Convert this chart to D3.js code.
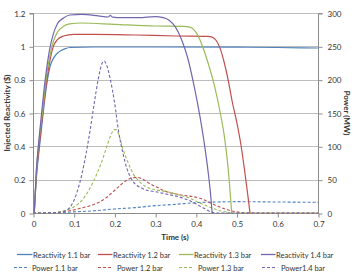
<!DOCTYPE html>
<html><head><meta charset="utf-8">
<script src="https://cdn.jsdelivr.net/npm/d3@7"></script>
<style>
html,body{margin:0;padding:0;background:#fff;}
svg text{font-family:Lato,"Open Sans",sans-serif;fill:#333;}
</style></head>
<body><svg id="c" width="354" height="275"></svg>
<script>
// Time ticks and axis ticks
const xTicks = [0,0.1,0.2,0.3,0.4,0.5,0.6,0.7];
const yLeftTicks = [0,0.2,0.4,0.6,0.8,1,1.2];
const yRightTicks = [0,50,100,150,200,250,300];

// Reactivity series ($) : [time, value]
const react11 = [[0.003,0],[0.008,0.2],[0.016,0.4],[0.025,0.6],[0.033,0.76],[0.042,0.88],[0.052,0.935],[0.063,0.965],[0.078,0.985],[0.091,0.993],[0.15,0.996],[0.3,0.996],[0.5,0.995],[0.6,0.993],[0.7,0.99]];
const react12 = [[0.003,0],[0.008,0.22],[0.016,0.42],[0.024,0.6],[0.033,0.78],[0.042,0.92],[0.05,1.0],[0.06,1.04],[0.075,1.062],[0.1,1.072],[0.15,1.072],[0.25,1.068],[0.35,1.062],[0.43,1.06],[0.44,1.055],[0.45,1.035],[0.46,0.985],[0.47,0.9],[0.48,0.79],[0.49,0.66],[0.5,0.55],[0.51,0.42],[0.52,0.25],[0.528,0.1],[0.533,0]];
const react13 = [[0.003,0],[0.008,0.24],[0.015,0.44],[0.023,0.6],[0.032,0.8],[0.042,0.95],[0.05,1.03],[0.06,1.085],[0.075,1.12],[0.09,1.135],[0.12,1.14],[0.2,1.132],[0.3,1.122],[0.37,1.12],[0.385,1.115],[0.395,1.1],[0.405,1.065],[0.415,1.01],[0.43,0.9],[0.445,0.77],[0.46,0.6],[0.47,0.46],[0.478,0.3],[0.484,0.13],[0.488,0]];
const react14 = [[0.003,0],[0.008,0.25],[0.015,0.45],[0.022,0.62],[0.03,0.8],[0.04,0.97],[0.05,1.075],[0.06,1.135],[0.075,1.17],[0.09,1.188],[0.12,1.192],[0.16,1.183],[0.185,1.176],[0.19,1.186],[0.195,1.175],[0.22,1.172],[0.26,1.172],[0.3,1.178],[0.32,1.172],[0.335,1.155],[0.35,1.115],[0.365,1.04],[0.38,0.93],[0.395,0.77],[0.41,0.58],[0.42,0.43],[0.43,0.25],[0.437,0.09],[0.44,0]];

// Power series (MW) : [time, value]
const power11 = [[0,0],[0.05,0.25],[0.1,1.7],[0.15,3.3],[0.2,6],[0.25,8],[0.3,11],[0.35,13],[0.4,15.5],[0.45,16.5],[0.5,17],[0.6,16.5],[0.7,16]];
const power12 = [[0,0],[0.05,0.4],[0.067,1.7],[0.09,3.3],[0.116,7],[0.14,11],[0.165,17],[0.18,23],[0.197,32],[0.215,42],[0.23,49],[0.245,53],[0.255,53.5],[0.265,52],[0.287,44],[0.31,37],[0.328,32],[0.36,27.5],[0.41,22],[0.44,14],[0.467,7],[0.5,1.7],[0.54,0],[0.7,0]];
const power13 = [[0,0],[0.05,0.4],[0.067,1.7],[0.08,4],[0.1,9],[0.12,19],[0.132,29],[0.145,43],[0.157,59],[0.17,79],[0.181,99],[0.19,115],[0.2,125],[0.205,125],[0.212,115],[0.222,94],[0.234,75],[0.246,59],[0.26,48],[0.279,39],[0.3,35],[0.328,32],[0.36,27],[0.385,22],[0.41,15],[0.434,9],[0.455,4],[0.475,1.7],[0.49,0],[0.7,0]];
const power14 = [[0,0],[0.05,0.4],[0.07,1.7],[0.08,3.3],[0.09,8],[0.1,18],[0.11,35],[0.12,58],[0.13,88],[0.14,123],[0.15,163],[0.16,200],[0.17,225],[0.175,228],[0.18,223],[0.19,200],[0.2,167],[0.21,123],[0.22,92],[0.23,68],[0.24,53],[0.25,44],[0.265,38],[0.28,34],[0.3,32],[0.33,28],[0.36,24],[0.39,17],[0.42,7],[0.44,1],[0.45,0],[0.7,0]];

const seriesNames = ["Reactivity 1.1 bar","Reactivity 1.2 bar","Reactivity 1.3 bar","Reactivity 1.4 bar","Power 1.1 bar","Power 1.2 bar","Power 1.3 bar","Power1.4 bar"];
const colors = ["#4F81BD","#C0504D","#9BBB59","#7067B0"];

const svg = d3.select("#c");
const L=33, R=318, T=13, B=213;
const x = d3.scaleLinear().domain([0,0.7]).range([L,R]);
const yL = d3.scaleLinear().domain([0,1.2]).range([B,T]);
const yR = d3.scaleLinear().domain([0,300]).range([B,T]);

// gridlines
svg.append("g").selectAll("line").data(yLeftTicks).join("line")
  .attr("x1",L).attr("x2",R).attr("y1",d=>Math.round(yL(d))+0.5).attr("y2",d=>Math.round(yL(d))+0.5)
  .attr("stroke","#bdbdbd").attr("stroke-width",1);

// axes
const fmtL = d=> d===0?"0":(d===1?"1":d3.format(".1f")(d));
const gL = svg.append("g").attr("transform",`translate(${L+0.5},0.5)`)
  .call(d3.axisLeft(yL).tickValues(yLeftTicks).tickFormat(fmtL).tickSize(4).tickPadding(4));
const gR = svg.append("g").attr("transform",`translate(${R+0.5},0.5)`)
  .call(d3.axisRight(yR).tickValues(yRightTicks).tickSize(4).tickPadding(5));
const gB = svg.append("g").attr("transform",`translate(0.5,${B+0.5})`)
  .call(d3.axisBottom(x).tickValues(xTicks).tickFormat(d=>d===0?"0":d3.format(".1f")(d)).tickSize(4).tickPadding(4));
[gL,gR,gB].forEach(g=>{
  g.selectAll("path").attr("stroke","#8c8c8c");
  g.selectAll("line").attr("stroke","#8c8c8c");
  g.selectAll("text").attr("font-size","8px").attr("fill","#333").style("font-family","Lato,'Open Sans',sans-serif");
});
gL.select(".domain").attr("d",`M-4,${T}H0V${B}`);
gR.select(".domain").attr("d",`M4,${T}H0V${B}`);
gB.select(".domain").attr("d",`M${L},0H${R}`);

// lines
const lineL = d3.line().x(d=>x(d[0])).y(d=>yL(d[1])).curve(d3.curveMonotoneX);
const lineR = d3.line().x(d=>x(d[0])).y(d=>yR(d[1])).curve(d3.curveMonotoneX);
const powers=[power11,power12,power13,power14];
const reacts=[react11,react12,react13,react14];
powers.forEach((s,i)=>{
  svg.append("path").datum(s).attr("d",lineR).attr("fill","none")
    .attr("stroke",colors[i]).attr("stroke-width",1.1).attr("stroke-dasharray","3,2");
});
reacts.forEach((s,i)=>{
  svg.append("path").datum(s).attr("d",lineL).attr("fill","none")
    .attr("stroke",colors[i]).attr("stroke-width",1.2);
});

// titles
svg.append("text").attr("x",175).attr("y",240).attr("text-anchor","middle")
  .attr("font-size","8px").attr("font-weight","bold").text("Time (s)");
svg.append("text").attr("transform","translate(10,113) rotate(-90)").attr("text-anchor","middle")
  .attr("font-size","8px").attr("font-weight","bold").text("Injected Reactivity ($)");
svg.append("text").attr("transform","translate(344,113) rotate(90)").attr("text-anchor","middle")
  .attr("font-size","8px").attr("font-weight","bold").text("Power (MW)");

// legend
const legX1=[17,98,179,261], legT1=[32.5,112.5,193.5,275.5];
const legX2=[14,98,179,262], legT2=[32,117,198,281];
for(let i=0;i<4;i++){
  svg.append("line").attr("x1",legX1[i]).attr("x2",legT1[i]).attr("y1",254.5).attr("y2",254.5)
    .attr("stroke",colors[i]).attr("stroke-width",1.3);
  svg.append("text").attr("x",legT1[i]+0.5).attr("y",257.5).attr("font-size","7.5px").text(seriesNames[i]);
  svg.append("line").attr("x1",legX2[i]).attr("x2",legX2[i]+14).attr("y1",267.5).attr("y2",267.5)
    .attr("stroke",colors[i]).attr("stroke-width",1.1).attr("stroke-dasharray","3,2");
  svg.append("text").attr("x",legT2[i]).attr("y",270.5).attr("font-size","7.5px").text(seriesNames[i+4]);
}
</script></body></html>
